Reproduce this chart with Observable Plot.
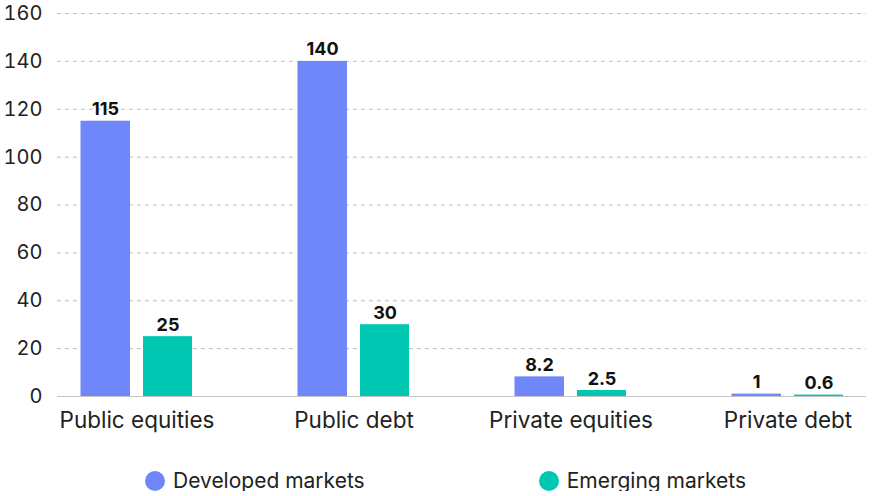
<!DOCTYPE html>
<html><head><meta charset="utf-8">
<script src="https://cdn.jsdelivr.net/npm/d3@7"></script>
<script src="https://cdn.jsdelivr.net/npm/@observablehq/plot@0.6"></script>
<style>
body{margin:0;background:#fff;font-family:Inter, "Noto Sans", sans-serif;}
#chart svg{display:block;}
#legend{display:flex;align-items:center;padding-left:145px;gap:174px;margin-top:21px;font-size:21px;color:#222;line-height:20px;}
.item{display:flex;align-items:center;gap:8px;}
.dot{width:20px;height:20px;border-radius:50%;display:inline-block;}
</style></head><body>
<div id="chart"></div>
<div id="legend"></div>
<script>
const categories = ["Public equities", "Public debt", "Private equities", "Private debt"];
const developed = [115, 140, 8.2, 1];
const emerging = [25, 30, 2.5, 0.6];
const seriesNames = ["Developed markets", "Emerging markets"];
const seriesColors = ["#6f87f8", "#00c7b2"];
const yTicks = [0, 20, 40, 60, 80, 100, 120, 140, 160];

const devData = categories.map((c, i) => ({category: c, value: developed[i]}));
const emData = categories.map((c, i) => ({category: c, value: emerging[i]}));

const chart = Plot.plot({
  width: 877,
  height: 450,
  marginTop: 13,
  marginBottom: 54,
  marginLeft: 57,
  marginRight: 11,
  style: {fontFamily: "Inter, 'Noto Sans', sans-serif", color: "#222", background: "#fff"},
  x: {type: "band", domain: categories, range: [27, 897], padding: 0},
  y: {domain: [0, 160]},
  marks: [
    Plot.ruleY(yTicks.filter(d => d > 0), {stroke: "#bdbdbd", strokeDasharray: "4,4", strokeWidth: 1}),
    Plot.barY(devData, {x: "category", y: "value", fill: seriesColors[0], insetLeft: 52.5, insetRight: 115}),
    Plot.barY(emData, {x: "category", y: "value", fill: seriesColors[1], insetLeft: 115, insetRight: 53}),
    Plot.ruleY([0], {stroke: "#c4c4c4", strokeWidth: 1.2}),
    Plot.text(devData, {x: "category", y: "value", text: d => String(d.value), dx: -31.5, dy: -6, lineAnchor: "bottom", fontSize: 18, fontWeight: 700, fill: "#111"}),
    Plot.text(emData, {x: "category", y: "value", text: d => String(d.value), dx: 31, dy: -6, lineAnchor: "bottom", fontSize: 18, fontWeight: 700, fill: "#111"}),
    Plot.axisY({ticks: yTicks, tickSize: 0, tickPadding: 15, fontSize: 20, label: null, fill: "#222"}),
    Plot.axisX({tickSize: 0, tickPadding: 16, fontSize: 22.5, label: null, fill: "#222"})
  ]
});
document.getElementById("chart").appendChild(chart);

const legend = document.getElementById("legend");
seriesNames.forEach((name, i) => {
  const item = document.createElement("div");
  item.className = "item";
  const dot = document.createElement("span");
  dot.className = "dot";
  dot.style.background = seriesColors[i];
  const label = document.createElement("span");
  label.textContent = name;
  item.appendChild(dot);
  item.appendChild(label);
  legend.appendChild(item);
});
</script>
</body></html>
